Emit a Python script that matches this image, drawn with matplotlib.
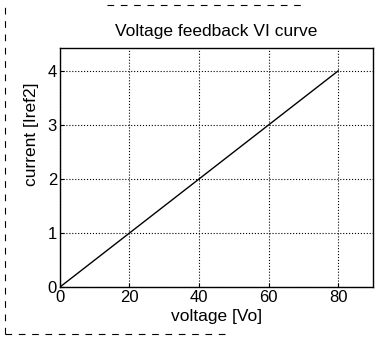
import matplotlib
matplotlib.use('Agg')
import matplotlib.pyplot as plt
from matplotlib.lines import Line2D

voltage = [0, 80]
current = [0, 4]
xticks = [0, 20, 40, 60, 80]
yticks = [0, 1, 2, 3, 4]

plt.rcParams['font.family'] = ['Liberation Sans', 'DejaVu Sans']

fig = plt.figure(figsize=(3.81, 3.39), dpi=100)
ax = fig.add_axes([0.157, 0.153, 0.822, 0.705])
ax.plot(voltage, current, color='black', linewidth=1)
ax.set_xlim(0, 90)
ax.set_ylim(0, 4.42)
ax.set_xticks(xticks)
ax.set_yticks(yticks)
ax.grid(True, linestyle=':', color='black', linewidth=0.8)
ax.tick_params(direction='in', length=3, labelsize=12, pad=2)
for s in ax.spines.values():
    s.set_linewidth(1)
ax.set_title('Voltage feedback VI curve', fontsize=12.5, pad=9)
ax.set_xlabel('voltage [Vo]', fontsize=12.5, labelpad=3)
ax.set_ylabel('current [Iref2]', fontsize=12.5)
ax.yaxis.set_label_coords(-0.065, 0.64)

# dashed frame from the scanned page
dash = dict(color='black', linewidth=0.8, linestyle=(0, (6, 6)), transform=fig.transFigure)
fig.add_artist(Line2D([0.013, 0.013], [0.015, 0.985], **dash))
fig.add_artist(Line2D([0.013, 0.6], [0.015, 0.015], **dash))
fig.add_artist(Line2D([0.28, 0.8], [0.985, 0.985], **dash))

fig.savefig('out.png', dpi=100)
